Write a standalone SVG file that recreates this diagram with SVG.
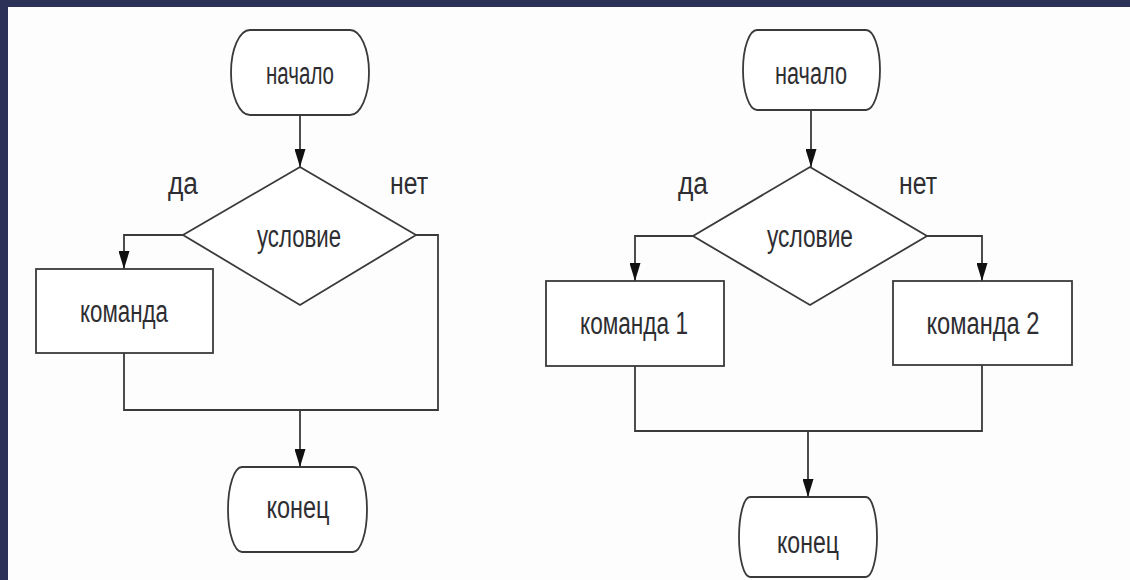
<svg xmlns="http://www.w3.org/2000/svg" width="1130" height="580" viewBox="0 0 1130 580">
<style>
.shape{fill:#fff;stroke:#3a3a3a;stroke-width:1.8}
.conn{fill:none;stroke:#3a3a3a;stroke-width:1.8}
.t{font-family:"Liberation Sans",Arial,sans-serif;font-size:31px;fill:#2e2e32;text-anchor:middle}
</style>
<defs>
<marker id="arr" markerUnits="userSpaceOnUse" markerWidth="18" markerHeight="11" viewBox="0 0 18 11" refX="18" refY="5.5" orient="auto">
<path d="M0,0 L18,5.5 L0,11 Z" fill="#111"/>
</marker>
</defs>
<rect x="0" y="0" width="1130" height="580" fill="#fdfdfd"/>
<rect x="0" y="0" width="1130" height="7" fill="#2b3157"/>
<rect x="0" y="0" width="8" height="580" fill="#2b3157"/>

<g id="connectors">
<path class="conn" d="M300,115 V167" marker-end="url(#arr)"/>
<path class="conn" d="M183,235 H124 V269" marker-end="url(#arr)"/>
<path class="conn" d="M124,353 V410 H438 V235 H416"/>
<path class="conn" d="M300,410 V467" marker-end="url(#arr)"/>
<path class="conn" d="M811,111 V167" marker-end="url(#arr)"/>
<path class="conn" d="M693,236 H635 V281" marker-end="url(#arr)"/>
<path class="conn" d="M927,236 H982 V281" marker-end="url(#arr)"/>
<path class="conn" d="M635,366 V431 H982 V365"/>
<path class="conn" d="M808,431 V497" marker-end="url(#arr)"/>
</g>

<g id="start1">
<path class="shape" d="M250,30 H350 A19 42.5 0 0 1 350,115 H250 A19 42.5 0 0 1 250,30 Z"/>
<text class="t" x="300" y="84" textLength="68" lengthAdjust="spacingAndGlyphs">начало</text>
</g>
<g id="cond1">
<path class="shape" d="M300,167 L416,235 L300,305 L183,235 Z"/>
<text class="t" x="299" y="247" textLength="84" lengthAdjust="spacingAndGlyphs">условие</text>
</g>
<g id="yes1"><text class="t" x="183" y="194" textLength="30" lengthAdjust="spacingAndGlyphs">да</text></g>
<g id="no1"><text class="t" x="409" y="194" textLength="38" lengthAdjust="spacingAndGlyphs">нет</text></g>
<g id="cmd1">
<rect class="shape" x="36" y="269" width="177" height="84"/>
<text class="t" x="124" y="322" textLength="88" lengthAdjust="spacingAndGlyphs">команда</text>
</g>
<g id="end1">
<path class="shape" d="M242,467 H353 A14 42.5 0 0 1 353,552 H242 A14 42.5 0 0 1 242,467 Z"/>
<text class="t" x="298" y="518" textLength="63" lengthAdjust="spacingAndGlyphs">конец</text>
</g>

<g id="start2">
<path class="shape" d="M757,30 H866 A14 40 0 0 1 866,110 H757 A14 40 0 0 1 757,30 Z"/>
<text class="t" x="811" y="84" textLength="72" lengthAdjust="spacingAndGlyphs">начало</text>
</g>
<g id="cond2">
<path class="shape" d="M810,167 L927,236 L810,305 L693,236 Z"/>
<text class="t" x="810" y="247" textLength="86" lengthAdjust="spacingAndGlyphs">условие</text>
</g>
<g id="yes2"><text class="t" x="693" y="194" textLength="30" lengthAdjust="spacingAndGlyphs">да</text></g>
<g id="no2"><text class="t" x="918" y="194" textLength="38" lengthAdjust="spacingAndGlyphs">нет</text></g>
<g id="cmd2a">
<rect class="shape" x="546" y="281" width="178" height="85"/>
<text class="t" x="634" y="334" textLength="108" lengthAdjust="spacingAndGlyphs">команда 1</text>
</g>
<g id="cmd2b">
<rect class="shape" x="893" y="281" width="179" height="84"/>
<text class="t" x="983" y="334" textLength="113" lengthAdjust="spacingAndGlyphs">команда 2</text>
</g>
<g id="end2">
<path class="shape" d="M750,497 H866 A11 40 0 0 1 866,577 H750 A11 40 0 0 1 750,497 Z"/>
<text class="t" x="808" y="553" textLength="62" lengthAdjust="spacingAndGlyphs">конец</text>
</g>
</svg>
